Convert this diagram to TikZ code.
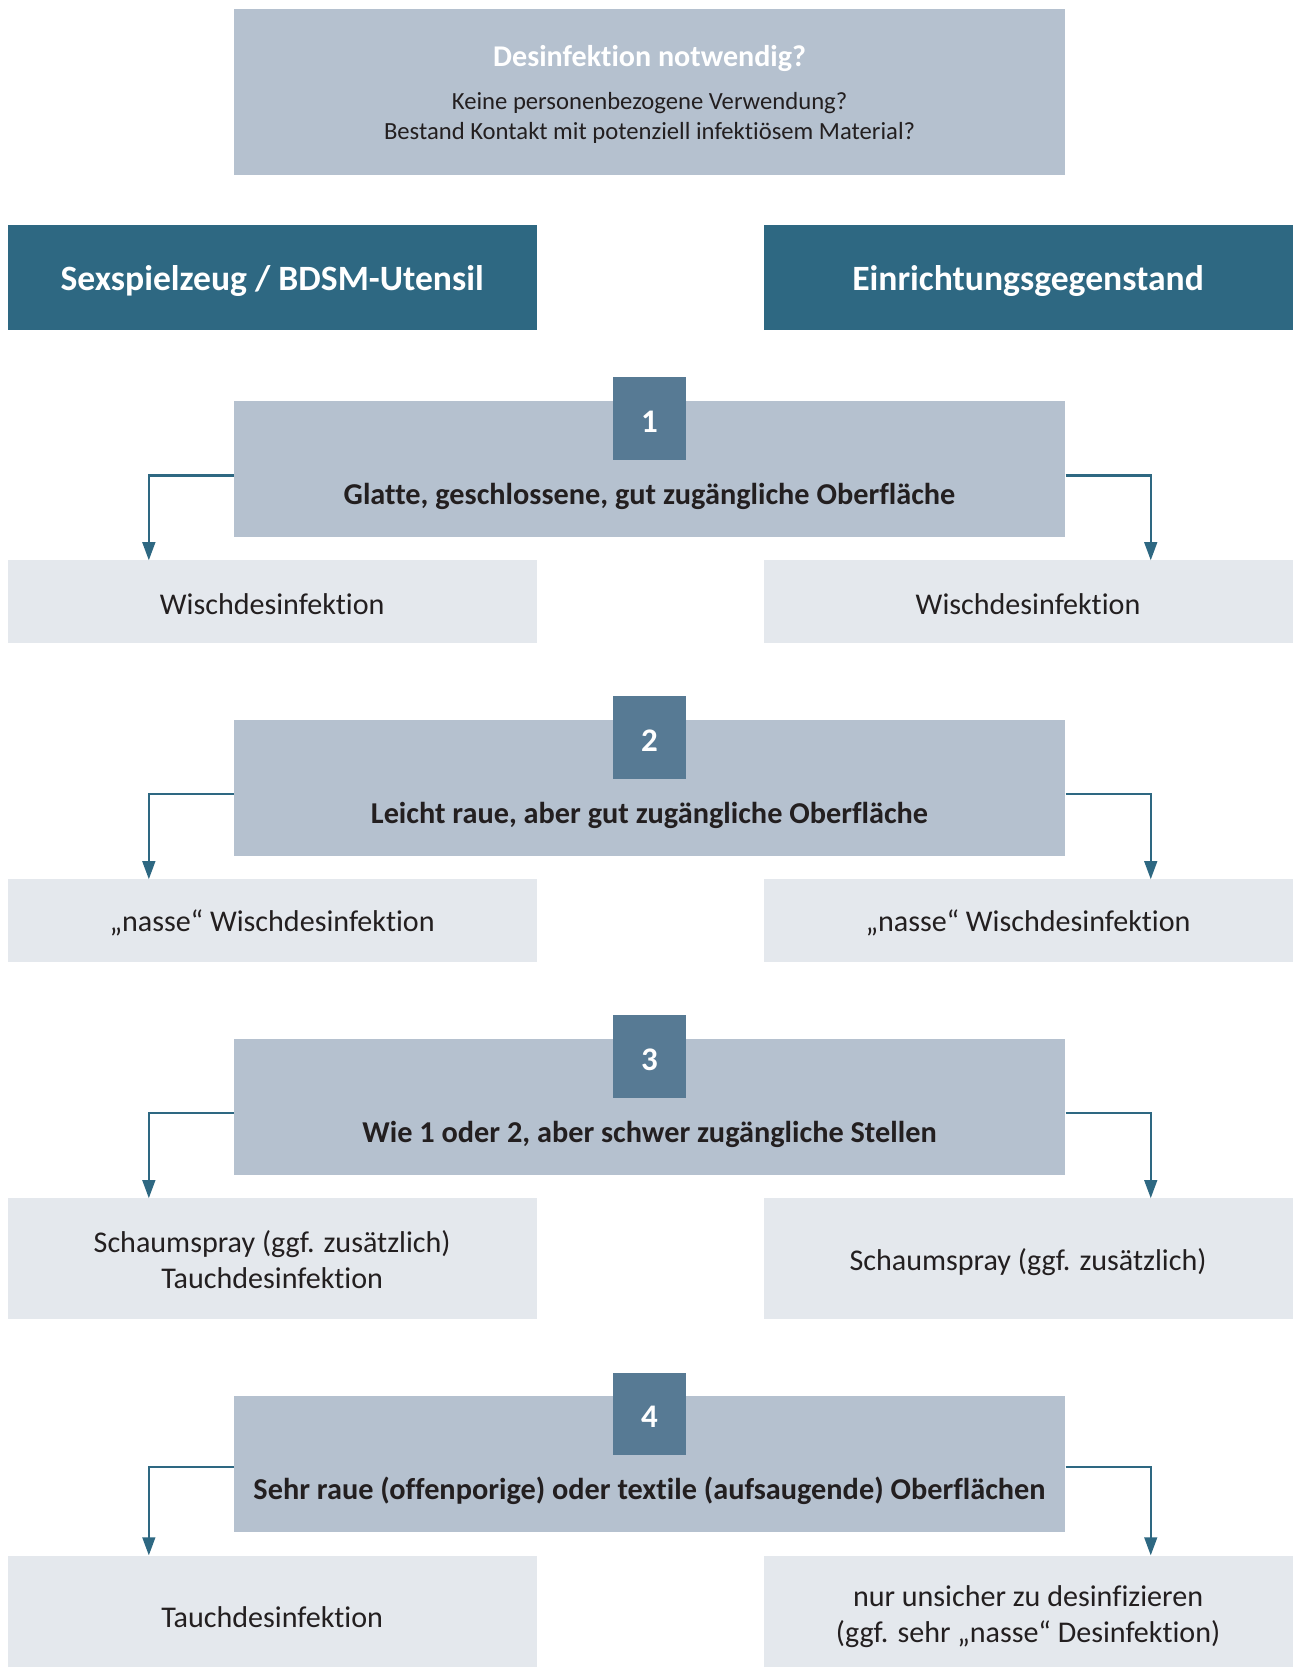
\documentclass[tikz,border=0pt]{standalone}
\usepackage{fontspec}
\setmainfont{Carlito}[Ligatures=NoCommon, RawFeature={-liga;-calt}]
\usetikzlibrary{arrows.meta,calc}
\definecolor{boxblue}{HTML}{B5C1CF}
\definecolor{darkteal}{HTML}{2E6882}
\definecolor{numblue}{HTML}{577A94}
\definecolor{resgrey}{HTML}{E4E8ED}
\definecolor{txt}{HTML}{231F20}
\tikzset{
  box/.style={rectangle, inner sep=0pt, anchor=north west},
  secbox/.style={box, fill=boxblue, minimum width=782pt, minimum height=128pt},
  numbox/.style={rectangle, inner sep=0pt, fill=numblue, minimum width=69pt, minimum height=78pt},
  numtxt/.style={inner sep=0pt, text=white, font=\fontsize{31}{36}\selectfont\bfseries},
  catbox/.style={box, fill=darkteal, minimum width=498pt, minimum height=99pt},
  cattxt/.style={inner sep=0pt, text=white, font=\fontsize{33.5}{40}\selectfont\bfseries},
  resbox/.style={box, fill=resgrey, minimum width=498pt},
  lab/.style={inner sep=0pt, text=txt, font=\fontsize{28.5}{34}\selectfont\bfseries},
  restxt/.style={inner sep=0pt, text=txt, align=center, font=\fontsize{28.3}{34}\selectfont},
  arr/.style={draw=darkteal, line width=2pt, -{Triangle[length=17pt,width=12pt]}}
}
\begin{document}
\begin{tikzpicture}[x=1pt,y=-1pt]
\useasboundingbox[fill=white] (0,0) rectangle (1216,1568);
% top box
\node[box, fill=boxblue, minimum width=782pt, minimum height=156pt] (top) at (220,8) {};
\node[inner sep=0pt, text=white, font=\fontsize{28.3}{34}\selectfont\bfseries] (toptitle) at (611,55) {Desinfektion notwendig?};
\node[inner sep=0pt, text=txt, align=center, font=\fontsize{23.2}{28}\selectfont] (toplines) at (611,111) {Keine personenbezogene Verwendung?\\Bestand Kontakt mit potenziell infektiösem Material?};
% categories
\node[catbox] (catL) at (7,211) {};
\node[cattxt] (catLt) at (256,264) {Sexspielzeug / BDSM-Utensil};
\node[catbox] (catR) at (718,211) {};
\node[cattxt] (catRt) at (967,264) {Einrichtungsgegenstand};
% section 1
\node[secbox] (s1) at (220,377) {};
\node[numbox] (n1) at (611,394) {};
\node[numtxt] (n1t) at (611,397) {1};
\node[lab] (s1t) at (611,467) {Glatte, geschlossene, gut zugängliche Oberfläche};
\node[resbox, minimum height=78pt] (r1L) at (7,527) {};
\node[resbox, minimum height=78pt] (r1R) at (718,527) {};
\node[restxt] (r1Lt) at (256,568) {Wischdesinfektion};
\node[restxt] (r1Rt) at (967,568) {Wischdesinfektion};
\draw[arr] ([yshift=-6pt]s1.west) -| ([xshift=133pt]r1L.north west);
\draw[arr] ([yshift=-6pt]s1.east) -| ([xshift=-134pt]r1R.north east);
% section 2
\node[secbox] (s2) at (220,677) {};
\node[numbox] (n2) at (611,694) {};
\node[numtxt] (n2t) at (611,697) {2};
\node[lab] (s2t) at (611,767) {Leicht raue, aber gut zugängliche Oberfläche};
\node[resbox, minimum height=78pt] (r2L) at (7,827) {};
\node[resbox, minimum height=78pt] (r2R) at (718,827) {};
\node[restxt] (r2Lt) at (256,868) {„nasse“ Wischdesinfektion};
\node[restxt] (r2Rt) at (967,868) {„nasse“ Wischdesinfektion};
\draw[arr] ([yshift=-6pt]s2.west) -| ([xshift=133pt]r2L.north west);
\draw[arr] ([yshift=-6pt]s2.east) -| ([xshift=-134pt]r2R.north east);
% section 3
\node[secbox] (s3) at (220,977) {};
\node[numbox] (n3) at (611,994) {};
\node[numtxt] (n3t) at (611,997) {3};
\node[lab] (s3t) at (611,1067) {Wie 1 oder 2, aber schwer zugängliche Stellen};
\node[resbox, minimum height=113pt] (r3L) at (7,1127) {};
\node[resbox, minimum height=113pt] (r3R) at (718,1127) {};
\node[restxt] (r3Lt) at (256,1185) {Schaumspray (ggf. zusätzlich)\\Tauchdesinfektion};
\node[restxt] (r3Rt) at (967,1187) {Schaumspray (ggf. zusätzlich)};
\draw[arr] ([yshift=-6pt]s3.west) -| ([xshift=133pt]r3L.north west);
\draw[arr] ([yshift=-6pt]s3.east) -| ([xshift=-134pt]r3R.north east);
% section 4
\node[secbox] (s4) at (220,1313) {};
\node[numbox] (n4) at (611,1330) {};
\node[numtxt] (n4t) at (611,1333) {4};
\node[lab] (s4t) at (611,1402) {Sehr raue (offenporige) oder textile (aufsaugende) Oberflächen};
\node[resbox, minimum height=105pt] (r4L) at (7,1463) {};
\node[resbox, minimum height=105pt] (r4R) at (718,1463) {};
\node[restxt] (r4Lt) at (256,1521) {Tauchdesinfektion};
\node[restxt] (r4Rt) at (967,1521) {nur unsicher zu desinfizieren\\(ggf. sehr „nasse“ Desinfektion)};
\draw[arr] ([yshift=-3pt]s4.west) -| ([xshift=133pt]r4L.north west);
\draw[arr] ([yshift=-3pt]s4.east) -| ([xshift=-134pt]r4R.north east);
\end{tikzpicture}
\end{document}
